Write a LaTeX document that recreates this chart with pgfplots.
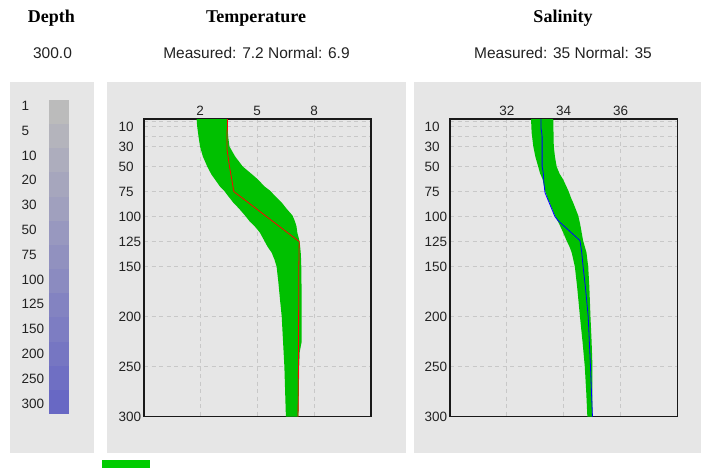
\documentclass[border=0pt]{standalone}
\usepackage{fontspec}
\setmainfont{Liberation Sans}
\newfontfamily\titlefont{Liberation Serif}
\usepackage{pgfplots}
\pgfplotsset{compat=1.18}

\definecolor{panel}{RGB}{230,230,230}
\definecolor{gridc}{RGB}{200,200,200}
\definecolor{band}{RGB}{0,192,0}
\definecolor{legendg}{RGB}{0,204,0}
\definecolor{cbT}{RGB}{187,187,187}
\definecolor{cbB}{RGB}{104,104,196}
\definecolor{txt}{RGB}{34,34,34}

\pgfplotsset{
 prof/.style={
  scale only axis, width=227pt, height=297.7pt,
  ymin=2.5, ymax=300, y dir=reverse,
  ytick={5,10,20,30,50,75,100,125,150,200,250,300},
  yticklabels={,10,,30,50,75,100,125,150,200,250,300},
  xticklabel pos=right,
  major tick length=0pt,
  grid=major,
  major grid style={gridc, dash pattern=on 4pt off 3.5pt, line width=0.9pt},
  axis line style={black!90, line width=1.2pt},
  tick label style={font=\fontsize{13.5}{15}\selectfont, text=txt},
  yticklabel style={anchor=west, inner sep=0pt, xshift=-25.5pt},
  xticklabel style={yshift=-0.5pt},
  /pgf/number format/assume math mode=true,
 }
}

\begin{document}
\begin{tikzpicture}[x=1pt,y=1pt]
\fill[white] (0,0) rectangle (702,-468);
% panels
\fill[panel] (10,-82) rectangle (94,-452.5);
\fill[panel] (107,-82) rectangle (406,-452.5);
\fill[panel] (414,-82) rectangle (701,-452.5);
% titles
\node[anchor=base, font=\titlefont\bfseries\fontsize{18}{20}\selectfont] at (51.5,-22.7) {Depth};
\node[anchor=base, font=\titlefont\bfseries\fontsize{18}{20}\selectfont] at (256,-22.7) {Temperature};
\node[anchor=base, font=\titlefont\bfseries\fontsize{18}{20}\selectfont] at (563,-22.7) {Salinity};
\node[anchor=base, text=txt, font=\fontsize{15.5}{17}\selectfont] at (52.5,-58.3) {300.0};
\node[anchor=base, text=txt, font=\fontsize{15.5}{17}\selectfont] at (256.5,-58.3) {Measured: 7.2 Normal: 6.9};
\node[anchor=base, text=txt, font=\fontsize{15.5}{17}\selectfont] at (563,-58.3) {Measured: 35 Normal: 35};
% legend swatch
\fill[legendg] (102,-460) rectangle (150,-468);

% depth colour bar
\begin{axis}[at={(49pt,-100pt)}, anchor=north west, scale only axis,
  width=20pt, height=314pt, xmin=0, xmax=1, ymin=100, ymax=414, y dir=reverse,
  axis line style={draw=none}, xtick=\empty, major tick length=0pt,
  ytick={106,130.78,155.56,180.34,205.12,229.9,254.68,279.46,304.24,329.02,353.8,378.58,403.36},
  yticklabels={1,5,10,20,30,50,75,100,125,150,200,250,300},
  tick label style={font=\fontsize{13.5}{15}\selectfont, text=txt},
  yticklabel style={anchor=west, inner sep=0pt, xshift=-27.6pt}]
\addplot[fill=cbB!0!cbT, draw=none] coordinates {(0,100) (1,100) (1,124.15) (0,124.15)} -- cycle;
\addplot[fill=cbB!8!cbT, draw=none] coordinates {(0,124.15) (1,124.15) (1,148.31) (0,148.31)} -- cycle;
\addplot[fill=cbB!17!cbT, draw=none] coordinates {(0,148.31) (1,148.31) (1,172.46) (0,172.46)} -- cycle;
\addplot[fill=cbB!25!cbT, draw=none] coordinates {(0,172.46) (1,172.46) (1,196.62) (0,196.62)} -- cycle;
\addplot[fill=cbB!33!cbT, draw=none] coordinates {(0,196.62) (1,196.62) (1,220.77) (0,220.77)} -- cycle;
\addplot[fill=cbB!42!cbT, draw=none] coordinates {(0,220.77) (1,220.77) (1,244.92) (0,244.92)} -- cycle;
\addplot[fill=cbB!50!cbT, draw=none] coordinates {(0,244.92) (1,244.92) (1,269.08) (0,269.08)} -- cycle;
\addplot[fill=cbB!58!cbT, draw=none] coordinates {(0,269.08) (1,269.08) (1,293.23) (0,293.23)} -- cycle;
\addplot[fill=cbB!67!cbT, draw=none] coordinates {(0,293.23) (1,293.23) (1,317.38) (0,317.38)} -- cycle;
\addplot[fill=cbB!75!cbT, draw=none] coordinates {(0,317.38) (1,317.38) (1,341.54) (0,341.54)} -- cycle;
\addplot[fill=cbB!83!cbT, draw=none] coordinates {(0,341.54) (1,341.54) (1,365.69) (0,365.69)} -- cycle;
\addplot[fill=cbB!92!cbT, draw=none] coordinates {(0,365.69) (1,365.69) (1,389.85) (0,389.85)} -- cycle;
\addplot[fill=cbB!100!cbT, draw=none] coordinates {(0,389.85) (1,389.85) (1,414) (0,414)} -- cycle;
\end{axis}

% temperature
\begin{axis}[prof, at={(144pt,-119pt)}, anchor=north west,
  xmin=-0.95, xmax=11.0, xtick={2,5,8}, xticklabels={2,5,8}]
\addplot[fill=band, draw=none] coordinates {
(1.82,2.5) (1.85,10) (1.92,20) (2.00,30) (2.15,40) (2.38,50) (2.60,58) (2.79,63) (3.05,70) (3.26,74) (3.50,80) (3.75,86) (4.05,92) (4.37,99) (4.62,105) (4.89,110) (5.15,116) (5.38,124) (5.55,130) (5.77,136) (5.92,143) (6.03,150) (6.12,165) (6.21,183) (6.30,200) (6.37,225) (6.44,250) (6.48,275) (6.52,300)
(7.18,300) (7.20,275) (7.22,250) (7.25,235) (7.35,225) (7.35,200) (7.35,183) (7.34,165) (7.33,150) (7.32,143) (7.30,136) (7.27,130) (7.23,124) (7.12,116) (7.08,110) (7.00,105) (6.87,99) (6.55,92) (6.30,86) (5.98,80) (5.68,74) (5.40,70) (5.05,63) (4.75,58) (4.25,50) (3.85,40) (3.55,30) (3.48,20) (3.45,10) (3.45,2.5)
} -- cycle;
\addplot[red, line width=0.8pt] coordinates {
(3.45,2.5) (3.45,12) (3.42,15) (3.42,33) (3.55,50) (3.78,75) (7.22,125) (7.20,150) (7.19,200) (7.18,250) (7.16,300)
};
\end{axis}

% salinity
\begin{axis}[prof, at={(450pt,-119pt)}, anchor=north west, width=227.5pt,
  xmin=30, xmax=38, xtick={32,34,36}, xticklabels={32,34,36}]
\addplot[fill=band, draw=none] coordinates {
(32.85,2.5) (32.87,16) (32.93,30) (33.00,40) (33.10,50) (33.17,57) (33.26,63) (33.34,74) (33.45,83) (33.50,86) (33.69,99) (33.85,108) (33.98,116) (34.10,124) (34.20,130) (34.28,136) (34.39,150) (34.47,170) (34.57,200) (34.66,225) (34.74,250) (34.79,275) (34.83,300)
(35.01,300) (35.01,250) (34.98,225) (34.94,200) (34.90,170) (34.86,150) (34.80,136) (34.74,130) (34.68,124) (34.63,116) (34.58,108) (34.51,99) (34.33,86) (34.28,83) (34.16,74) (33.98,63) (33.85,57) (33.75,50) (33.69,40) (33.65,30) (33.64,16) (33.63,2.5)
} -- cycle;
\addplot[blue, line width=0.8pt] coordinates {
(33.20,2.5) (33.20,12) (33.22,15) (33.24,20) (33.24,50) (33.28,56) (33.30,66) (33.34,76) (33.69,100) (33.80,104) (34.57,124) (34.63,135) (34.68,150) (34.76,170) (34.86,200) (34.94,250) (35.01,300)
};
\end{axis}
\end{tikzpicture}
\end{document}
